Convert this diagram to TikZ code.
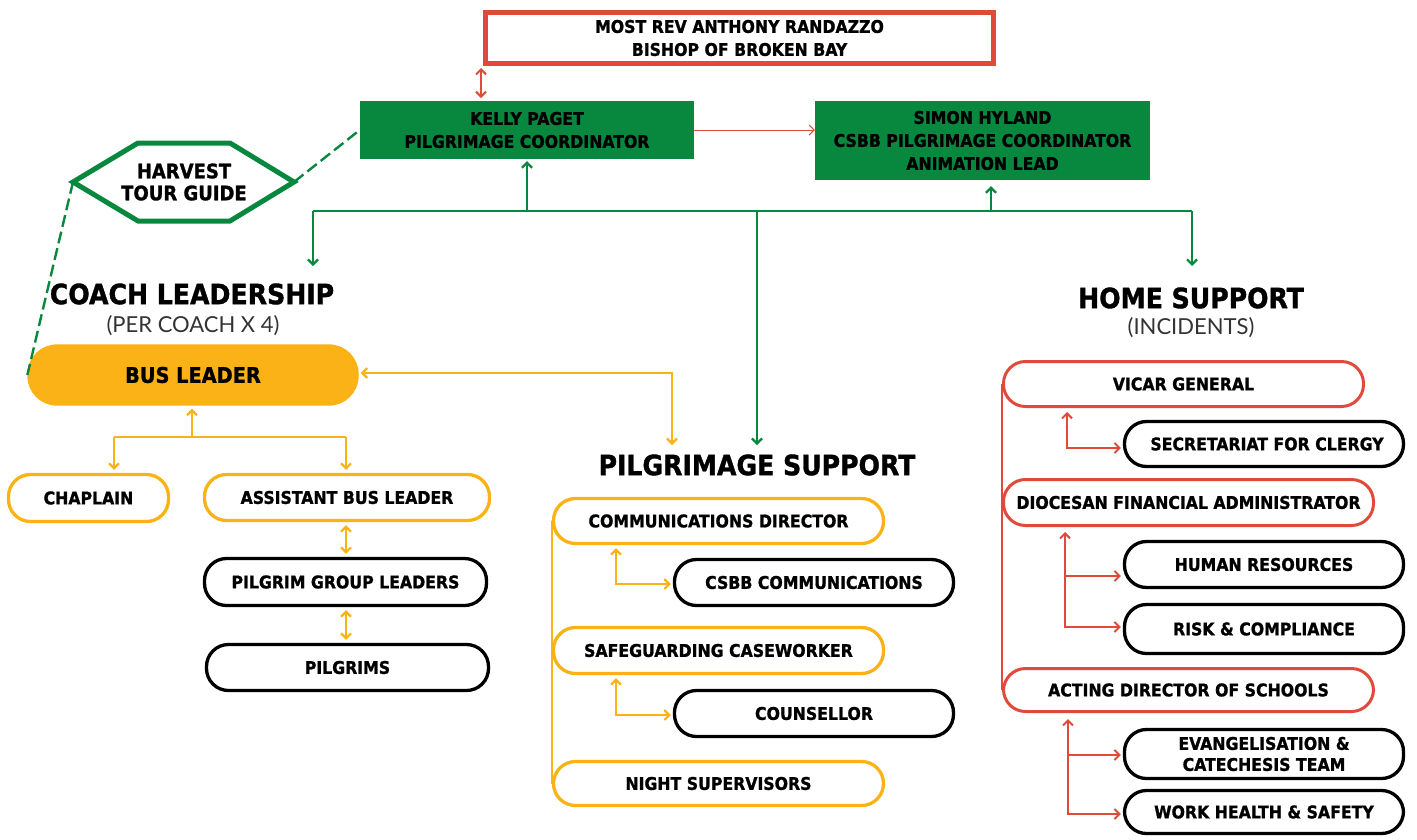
\documentclass[tikz,border=0pt]{standalone}
\usepackage{fontspec}
\usetikzlibrary{arrows.meta}
\newfontfamily\hv{DejaVu Sans Condensed}[BoldFeatures={FakeBold=1.2}]
\newfontfamily\lt{Lato}
\definecolor{cgreen}{HTML}{08873E}
\definecolor{cred}{HTML}{DF4A3B}
\definecolor{cyel}{HTML}{FBB217}
\begin{document}
\begin{tikzpicture}[x=1pt,y=-1pt,
  >={Straight Barb[length=5pt,width=10pt]},
  txt/.style={font=\hv\bfseries\fontsize{17.5}{23}\selectfont, align=center, inner sep=0pt},
  gbox/.style={txt, rectangle, fill=cgreen},
  pill/.style={txt, rectangle, rounded corners=22pt, line width=3.3pt},
  ypill/.style={pill, draw=cyel},
  kpill/.style={pill, draw=black},
  rpill/.style={pill, draw=cred, line width=3pt},
  heading/.style={font=\hv\bfseries\fontsize{28}{32}\selectfont, inner sep=0pt},
  subh/.style={font=\lt\fontsize{22}{24}\selectfont, inner sep=0pt, text=black!80},
  gl/.style={draw=cgreen, line width=2.2pt},
  gdash/.style={draw=cgreen, line width=2.4pt, dash pattern=on 12pt off 5pt},
  yl/.style={draw=cyel, line width=2.2pt},
  rl/.style={draw=cred, line width=2pt},
]
\useasboundingbox (0,0) rectangle (1417,839);

% top boxes
\node[txt, draw=cred, line width=5pt, minimum width=508pt, minimum height=51pt] (bishop) at (739.5,38) {MOST REV ANTHONY RANDAZZO\\BISHOP OF BROKEN BAY};
\node[gbox, minimum width=334pt, minimum height=58pt] (kelly) at (527,130) {KELLY PAGET\\PILGRIMAGE COORDINATOR};
\node[gbox, minimum width=335pt, minimum height=79pt] (simon) at (982.5,140.5) {SIMON HYLAND\\CSBB PILGRIMAGE COORDINATOR\\ANIMATION LEAD};

% hexagon
\coordinate (hexL) at (73,182);
\coordinate (hexR) at (294,182);
\draw[cgreen, line width=5pt, line join=miter] (hexL) -- (138,143) -- (230,143) -- (hexR) -- (230,221) -- (138,221) -- cycle;
\node[txt, font=\hv\bfseries\fontsize{20}{22}\selectfont] (hex) at (184,182) {HARVEST\\TOUR GUIDE};

% headings
\node[heading] (coachH) at (192,294) {COACH LEADERSHIP};
\node[subh] (coachS) at (193,326) {(PER COACH X 4)};
\node[heading] (psH) at (757,465) {PILGRIMAGE SUPPORT};
\node[heading] (homeH) at (1191,298) {HOME SUPPORT};
\node[subh] (homeS) at (1191,328) {(INCIDENTS)};

% coach leadership
\node[pill, fill=cyel, draw=cyel, rounded corners=28pt, minimum width=328pt, minimum height=58pt, font=\hv\bfseries\fontsize{21.5}{24}\selectfont] (bus) at (193,375) {BUS LEADER};
\node[ypill, minimum width=160pt, minimum height=47pt] (chaplain) at (88.5,498) {CHAPLAIN};
\node[ypill, minimum width=285pt, minimum height=46pt] (asst) at (347,497.5) {ASSISTANT BUS LEADER};
\node[kpill, minimum width=282pt, minimum height=47pt] (pgl) at (345.5,582) {PILGRIM GROUP LEADERS};
\node[kpill, minimum width=282pt, minimum height=46pt] (pilgrims) at (347.5,667.5) {PILGRIMS};

% pilgrimage support
\node[ypill, minimum width=330pt, minimum height=45pt] (comm) at (718.5,521) {COMMUNICATIONS DIRECTOR};
\node[kpill, minimum width=279pt, minimum height=46pt] (csbb) at (814,582.5) {CSBB COMMUNICATIONS};
\node[ypill, minimum width=330pt, minimum height=46pt] (safe) at (718.5,650.5) {SAFEGUARDING CASEWORKER};
\node[kpill, minimum width=279pt, minimum height=46pt] (couns) at (814,713.5) {COUNSELLOR};
\node[ypill, minimum width=330pt, minimum height=44pt] (night) at (718.5,783.5) {NIGHT SUPERVISORS};

% home support
\node[rpill, minimum width=360pt, minimum height=45pt] (vicar) at (1183.5,384) {VICAR GENERAL};
\node[kpill, minimum width=279pt, minimum height=45pt] (secr) at (1264,444) {\hspace*{6pt}SECRETARIAT FOR CLERGY};
\node[rpill, minimum width=370pt, minimum height=46pt] (dfa) at (1188.5,502.5) {DIOCESAN FINANCIAL ADMINISTRATOR};
\node[kpill, minimum width=279pt, minimum height=46pt] (hr) at (1264,564.5) {HUMAN RESOURCES};
\node[kpill, minimum width=279pt, minimum height=49pt] (risk) at (1264,629) {RISK \& COMPLIANCE};
\node[rpill, minimum width=370pt, minimum height=43pt] (ads) at (1188.5,690) {ACTING DIRECTOR OF SCHOOLS};
\node[kpill, minimum width=279pt, minimum height=49pt, font=\hv\bfseries\fontsize{17.5}{21}\selectfont] (evang) at (1264,754) {EVANGELISATION \&\\CATECHESIS TEAM};
\node[kpill, minimum width=279pt, minimum height=43pt] (whs) at (1264,812) {WORK HEALTH \& SAFETY};

% green tree
\coordinate (gL) at (313,211);
\coordinate (gR) at (1192,211);
\coordinate (gK) at (527,211);
\coordinate (gS) at (991,211);
\coordinate (gM) at (757,211);
\coordinate (coachT) at (313,266);
\coordinate (homeT) at (1192,266);
\coordinate (psT) at (757,445);
\draw[gl] (gL) -- (gR);
\draw[gl,->,shorten >=2pt] (gK) -- (kelly.south);
\draw[gl,->,shorten >=6pt] (gS) -- (gS |- simon.south);
\draw[gl,->] (gL) -- (coachT);
\draw[gl,->] (gR) -- (homeT);
\draw[gl,->] (gM) -- (psT);

% dashed guide links
\draw[gdash] (hexR) -- (kelly.west);
\draw[gdash] (hexL) -- (bus.west);

% red links
\coordinate (rT) at (481,68);
\coordinate (rB) at (481,98);
\draw[rl,<->] (rT) -- (rB);
\draw[cred, line width=1pt, ->] (kelly.east) -- (simon.west |- kelly.east);

% coach leadership links
\coordinate (yC) at (672,373);
\coordinate (yE) at (672,445);
\draw[yl,<->,shorten <=2pt] (bus.east |- yC) -- (yC) -- (yE);
\coordinate (bJ) at (192,437);
\coordinate (bL) at (114,437);
\coordinate (bR) at (346,437);
\draw[yl,->,shorten >=3pt] (bJ) -- (bJ |- bus.south);
\draw[yl] (bL) -- (bR);
\draw[yl,->,shorten >=3pt] (bL) -- (bL |- chaplain.north);
\draw[yl,->,shorten >=3pt] (bR) -- (bR |- asst.north);
\draw[yl,<->,shorten <=3pt,shorten >=3pt] (bR |- asst.south) -- (bR |- pgl.north);
\draw[yl,<->,shorten <=3pt,shorten >=3pt] (bR |- pgl.south) -- (bR |- pilgrims.north);

% pilgrimage support links
\draw[yl] (comm.west) -- (night.west);
\coordinate (e1) at (616,584);
\coordinate (e2) at (616,715);
\draw[yl,<->,shorten <=3pt,shorten >=2pt] (e1 |- comm.south) -- (e1) -- (e1 -| csbb.west);
\draw[yl,<->,shorten <=3pt,shorten >=2pt] (e2 |- safe.south) -- (e2) -- (e2 -| couns.west);

% home support links
\draw[rl] (vicar.west) -- (ads.west);
\coordinate (h1) at (1067,448);
\draw[rl,<->,shorten <=4pt,shorten >=2pt] (h1 |- vicar.south) -- (h1) -- (h1 -| secr.west);
\coordinate (h2a) at (1065,576);
\coordinate (h2b) at (1065,627);
\draw[rl,<->,shorten <=5pt,shorten >=2pt] (h2b |- dfa.south) -- (h2b) -- (h2b -| risk.west);
\draw[rl,->,shorten >=2pt] (h2a) -- (h2a -| hr.west);
\coordinate (h3a) at (1068,755);
\coordinate (h3b) at (1068,814);
\draw[rl,<->,shorten <=6pt,shorten >=2pt] (h3b |- ads.south) -- (h3b) -- (h3b -| whs.west);
\draw[rl,->,shorten >=2pt] (h3a) -- (h3a -| evang.west);
\end{tikzpicture}
\end{document}
